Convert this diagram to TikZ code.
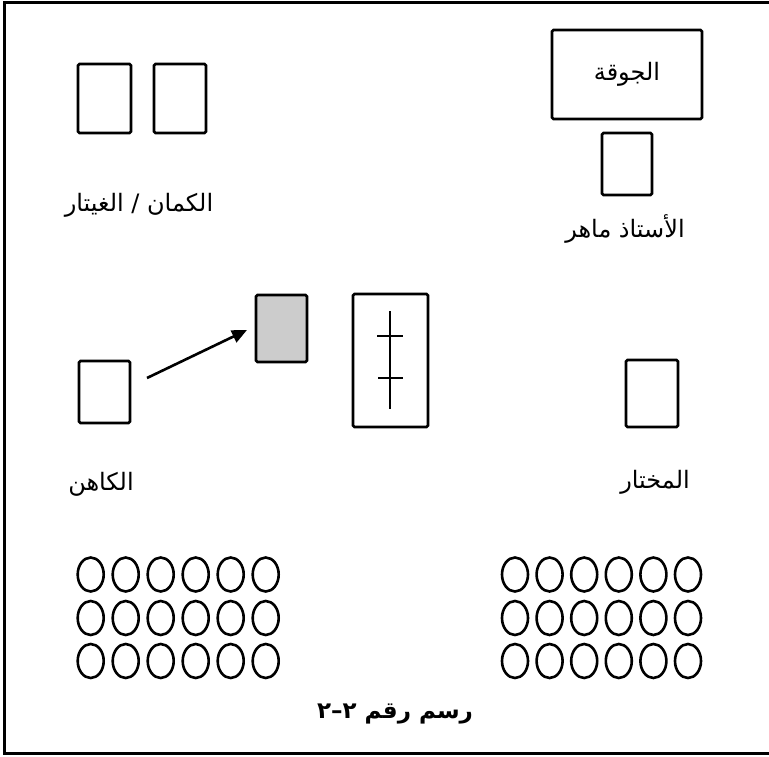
\documentclass[tikz,border=0pt]{standalone}
\usepackage{fontspec}
\newfontfamily\arabicfont[Script=Arabic]{DejaVu Sans}
\TeXXeTstate=1
\usetikzlibrary{arrows.meta,shapes.geometric}
\begin{document}
\begin{tikzpicture}[x=1pt,y=-1pt,
  seat/.style={draw=black,line width=2.8pt,rounded corners=1.5pt,inner sep=0pt},
  lbl/.style={font=\arabicfont\fontsize{24}{28}\selectfont,inner sep=0pt},
  pew/.style={draw=black,line width=2.6pt,ellipse,inner sep=0pt,minimum width=26pt,minimum height=34pt}]
\useasboundingbox (0,0) rectangle (769,756);
\fill[white] (0,0) rectangle (769,756);
% frame (right side lies outside the picture)
\draw[line width=3pt] (769,2) -- (4,2) -- (4,753) -- (769,753);
% choir
\node[seat,minimum width=150pt,minimum height=89pt] (choir) at (627,74.5) {};
\node[lbl] (choirt) at (627,74) {\beginR الجوقة\endR};
% maestro
\node[seat,minimum width=50pt,minimum height=62pt] (maher) at (627,164) {};
\node[lbl] (mahert) at (625,229) {\beginR الأستاذ ماهر\endR};
% violin / guitar
\node[seat,minimum width=53pt,minimum height=69pt] (v1) at (104.5,98.5) {};
\node[seat,minimum width=52pt,minimum height=69pt] (v2) at (180,98.5) {};
\node[lbl] (vt) at (139,205) {\beginR الكمان / الغيتار\endR};
% priest
\node[seat,minimum width=51pt,minimum height=62pt] (kahen) at (104.5,392) {};
\node[lbl] (kahent) at (101,484) {\beginR الكاهن\endR};
% grey box
\node[seat,fill=gray!40,minimum width=51pt,minimum height=67pt] (grey) at (281.5,328.5) {};
\coordinate (arrS) at (147,378);
\coordinate (arrE) at (247,330);
\draw[line width=2.6pt,-{Triangle[length=15pt,width=13pt]}] (arrS) -- (arrE);
% altar
\node[seat,minimum width=75pt,minimum height=133pt] (altar) at (390.5,360.5) {};
\coordinate (crT) at (390,311);
\coordinate (crB) at (390,409);
\coordinate (b1L) at (377,336);
\coordinate (b1R) at (403,336);
\coordinate (b2L) at (378,378);
\coordinate (b2R) at (403,378);
\draw[line width=2.4pt] (crT) -- (crB);
\draw[line width=2.4pt] (b1L) -- (b1R);
\draw[line width=2.4pt] (b2L) -- (b2R);
% mukhtar
\node[seat,minimum width=52pt,minimum height=67pt] (mukh) at (652,393.5) {};
\node[lbl] (mukht) at (655,482) {\beginR المختار\endR};
% pews
\foreach \r [count=\j] in {574.5,618,661}{
  \foreach \i in {0,...,5}{
    \node[pew] (L\j\i) at (90.7+35*\i,\r) {};
    \node[pew] (R\j\i) at (515+34.6*\i,\r) {};
  }
}
% caption
\node[font=\arabicfont\bfseries\fontsize{23}{27}\selectfont,inner sep=0pt] (cap) at (395,714) {\beginR رسم رقم ٢–٢\endR};
\end{tikzpicture}
\end{document}
